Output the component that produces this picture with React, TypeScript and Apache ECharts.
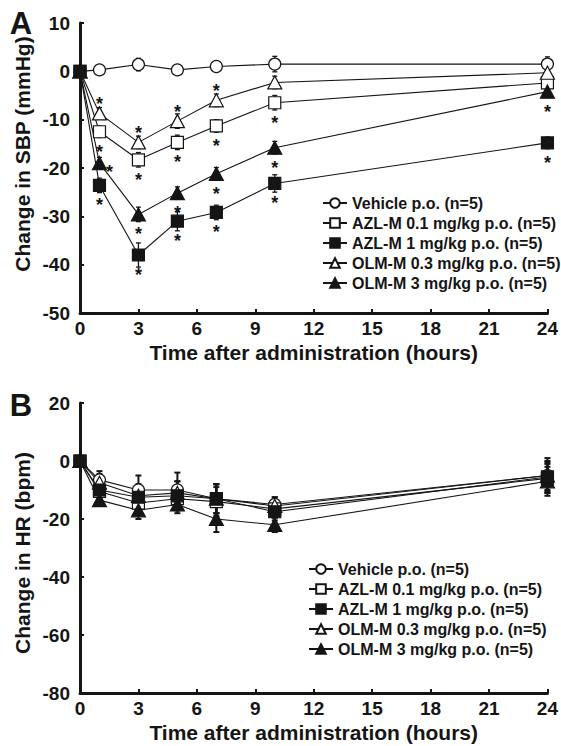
import React, { useEffect, useRef } from 'react';
import * as echarts from 'echarts';

const times = [0, 1, 3, 5, 7, 10, 24];
const seriesNames = [
  'Vehicle p.o. (n=5)',
  'AZL-M 0.1 mg/kg p.o. (n=5)',
  'AZL-M 1 mg/kg p.o. (n=5)',
  'OLM-M 0.3 mg/kg p.o. (n=5)',
  'OLM-M 3 mg/kg p.o. (n=5)',
];
const symbols = ['circle', 'rect', 'rect', 'triangle', 'triangle'];
const filled = [false, false, true, false, true];

// Panel A: change in SBP (mmHg)
const sbpVehicle = [0, 0.3, 1.4, 0.3, 1.0, 1.5, 1.5];
const sbpAzl01 = [0, -12.5, -18.3, -14.7, -11.3, -6.5, -2.4];
const sbpAzl1 = [0, -23.6, -38, -31, -29.2, -23.2, -14.8];
const sbpOlm03 = [0, -8.7, -14.7, -10.3, -6, -2.3, -0.3];
const sbpOlm3 = [0, -19, -29.6, -25.2, -21.2, -15.8, -4.2];
const sbpSemVehicle = [0, 1, 1.3, 1, 1, 1.6, 1.5];
const sbpSemAzl01 = [0, 1.2, 1.5, 1.5, 1.3, 1.5, 1.5];
const sbpSemAzl1 = [0, 1.5, 2.5, 2, 1.5, 1.8, 1.2];
const sbpSemOlm03 = [0, 1.2, 1.3, 1.5, 1.3, 1.3, 1.2];
const sbpSemOlm3 = [0, 1.2, 1.5, 1.3, 1.3, 1.3, 1.2];
// significance marks: a = above, b = below, r = right, '' = none
const sbpStarsVehicle = ['', '', '', '', '', '', ''];
const sbpStarsAzl01 = ['', 'b', 'b', 'b', 'b', 'b', ''];
const sbpStarsAzl1 = ['', 'b', 'b', 'b', 'b', 'b', 'b'];
const sbpStarsOlm03 = ['', 'a', 'a', 'a', 'a', '', ''];
const sbpStarsOlm3 = ['', 'r', 'b', 'b', 'b', 'b', 'b'];

// Panel B: change in HR (bpm)
const hrVehicle = [0, -6.5, -10, -10, -13, -15, -5];
const hrAzl01 = [0, -10.5, -14.5, -13, -14, -16.5, -6];
const hrAzl1 = [0, -10, -12.5, -12, -13, -17.5, -5.5];
const hrOlm03 = [0, -7.5, -12, -11, -13, -15.5, -5];
const hrOlm3 = [0, -13.5, -17, -15, -20, -22, -7];
const hrSemVehicle = [0, 3, 5, 6, 5, 2.5, 6];
const hrSemAzl01 = [0, 3, 4, 4, 5, 3, 5];
const hrSemAzl1 = [0, 3, 4, 5, 5, 3, 5];
const hrSemOlm03 = [0, 3, 4, 4, 5, 3, 5];
const hrSemOlm3 = [0, 2, 3, 3, 4.5, 2.5, 5];

const sbpTitle = 'Change in SBP (mmHg)';
const hrTitle = 'Change in HR (bpm)';
const xTitle = 'Time after administration (hours)';

const FONT = '"Liberation Sans", Arial, Helvetica, sans-serif';
const INK = '#151515';

const sbpValues = [sbpVehicle, sbpAzl01, sbpAzl1, sbpOlm03, sbpOlm3];
const sbpSems = [sbpSemVehicle, sbpSemAzl01, sbpSemAzl1, sbpSemOlm03, sbpSemOlm3];
const sbpStars = [sbpStarsVehicle, sbpStarsAzl01, sbpStarsAzl1, sbpStarsOlm03, sbpStarsOlm3];
const hrValues = [hrVehicle, hrAzl01, hrAzl1, hrOlm03, hrOlm3];
const hrSems = [hrSemVehicle, hrSemAzl01, hrSemAzl1, hrSemOlm03, hrSemOlm3];

const starCode: Record<string, number> = { a: 1, b: 2, r: 3 };

function errorSeries(vals: number[], sems: number[], axis: number, capW: number, lw: number) {
  return {
    type: 'custom',
    xAxisIndex: axis,
    yAxisIndex: axis,
    z: 1,
    silent: true,
    data: times.map((t, i) => [t, vals[i], sems[i]]),
    renderItem: (params: any, api: any) => {
      const x = api.value(0);
      const y = api.value(1);
      const e = api.value(2);
      if (!e) return null;
      const top = api.coord([x, y + e]);
      const bot = api.coord([x, y - e]);
      const st = { stroke: INK, lineWidth: lw };
      return {
        type: 'group',
        children: [
          { type: 'line', shape: { x1: top[0], y1: top[1], x2: bot[0], y2: bot[1] }, style: st },
          { type: 'line', shape: { x1: top[0] - capW, y1: top[1], x2: top[0] + capW, y2: top[1] }, style: st },
          { type: 'line', shape: { x1: bot[0] - capW, y1: bot[1], x2: bot[0] + capW, y2: bot[1] }, style: st },
        ],
      };
    },
  };
}

function starSeries(vals: number[], stars: string[], axis: number) {
  return {
    type: 'custom',
    xAxisIndex: axis,
    yAxisIndex: axis,
    z: 5,
    silent: true,
    data: times.map((t, i) => [t, vals[i], starCode[stars[i]] || 0]),
    renderItem: (params: any, api: any) => {
      const code = api.value(2);
      if (!code) return null;
      const p = api.coord([api.value(0), api.value(1)]);
      let dx = 0;
      let dy = 0;
      if (code === 1) dy = -13;
      else if (code === 2) dy = 16;
      else { dx = 10; dy = 5; }
      return {
        type: 'text',
        x: p[0] + dx,
        y: p[1] + dy + 4,
        style: {
          text: '*',
          fill: INK,
          font: `bold 18px ${FONT}`,
          textAlign: 'center',
          textVerticalAlign: 'middle',
        },
      };
    },
  };
}

function lineSeries(vals: number[], k: number, axis: number) {
  const fill = filled[k] ? INK : '#ffffff';
  return {
    type: 'line',
    name: seriesNames[k],
    xAxisIndex: axis,
    yAxisIndex: axis,
    z: 3,
    data: times.map((t, i) => [t, vals[i]]),
    symbol: symbols[k],
    symbolSize: symbols[k] === 'triangle' ? [14, 13] : 12,
    showAllSymbol: true,
    clip: false,
    lineStyle: { color: INK, width: 1.1 },
    itemStyle: { color: fill, borderColor: INK, borderWidth: 1.2 },
    emphasis: { disabled: true },
  };
}

function axisCommon() {
  return {
    axisLine: { show: true, onZero: false, lineStyle: { color: INK, width: 3 } },
    axisTick: { show: true, inside: true, length: 4, lineStyle: { color: INK, width: 2 } },
    splitLine: { show: false },
    axisLabel: { color: INK, fontFamily: FONT, fontWeight: 'bold', fontSize: 19 },
  };
}

export default function App() {
  const ref = useRef<HTMLDivElement>(null);
  useEffect(() => {
    if (!ref.current) return;
    const chart = echarts.init(ref.current, undefined, { renderer: 'svg' });
    const order = [0, 1, 3, 4, 2];
    const series: any[] = [];
    order.forEach((k) => {
      series.push(errorSeries(sbpValues[k], sbpSems[k], 0, 2.5, 1.3));
      series.push(errorSeries(hrValues[k], hrSems[k], 1, 3, 2));
    });
    order.forEach((k) => {
      series.push(lineSeries(sbpValues[k], k, 0));
      series.push(lineSeries(hrValues[k], k, 1));
    });
    order.forEach((k) => {
      series.push(starSeries(sbpValues[k], sbpStars[k], 0));
    });

    const legendCommon = {
      data: seriesNames,
      orient: 'vertical',
      selectedMode: false,
      itemWidth: 24,
      itemHeight: 12,
      itemGap: 4,
      textStyle: { color: INK, fontFamily: FONT, fontWeight: 'bold', fontSize: 16, lineHeight: 16 },
    };

    chart.setOption({
      animation: false,
      backgroundColor: '#ffffff',
      textStyle: { fontFamily: FONT },
      grid: [
        { left: 80, top: 23, width: 470, height: 290 },
        { left: 80, top: 403, width: 470, height: 290 },
      ],
      xAxis: [0, 1].map((g) => ({
        type: 'value',
        gridIndex: g,
        min: 0,
        max: 24,
        interval: 3,
        name: xTitle,
        nameLocation: 'middle',
        nameGap: 29,
        nameTextStyle: { color: INK, fontFamily: FONT, fontWeight: 'bold', fontSize: 21 },
        ...axisCommon(),
        axisLabel: { ...axisCommon().axisLabel, margin: 6 },
      })),
      yAxis: [
        { type: 'value', gridIndex: 0, min: -50, max: 10, interval: 10, ...axisCommon(), axisLabel: { ...axisCommon().axisLabel, margin: 10 } },
        { type: 'value', gridIndex: 1, min: -80, max: 20, interval: 20, ...axisCommon(), axisLabel: { ...axisCommon().axisLabel, margin: 10 } },
      ],
      legend: [
        { ...legendCommon, left: 317, top: 190 },
        { ...legendCommon, left: 303, top: 556 },
      ],
      graphic: [
        { type: 'text', x: 21, y: 23, style: { text: 'A', font: `bold 31px ${FONT}`, fill: INK, textAlign: 'center', textVerticalAlign: 'middle' } },
        { type: 'text', x: 21, y: 405, style: { text: 'B', font: `bold 31px ${FONT}`, fill: INK, textAlign: 'center', textVerticalAlign: 'middle' } },
        { type: 'text', x: 22, y: 154, rotation: Math.PI / 2, style: { text: sbpTitle, font: `bold 21px ${FONT}`, fill: INK, textAlign: 'center', textVerticalAlign: 'middle' } },
        { type: 'text', x: 22, y: 553, rotation: Math.PI / 2, style: { text: hrTitle, font: `bold 21px ${FONT}`, fill: INK, textAlign: 'center', textVerticalAlign: 'middle' } },
      ],
      series,
    });
    return () => chart.dispose();
  }, []);
  return <div ref={ref} style={{ position: 'absolute', left: 0, top: 0, width: 561, height: 746 }} />;
}
